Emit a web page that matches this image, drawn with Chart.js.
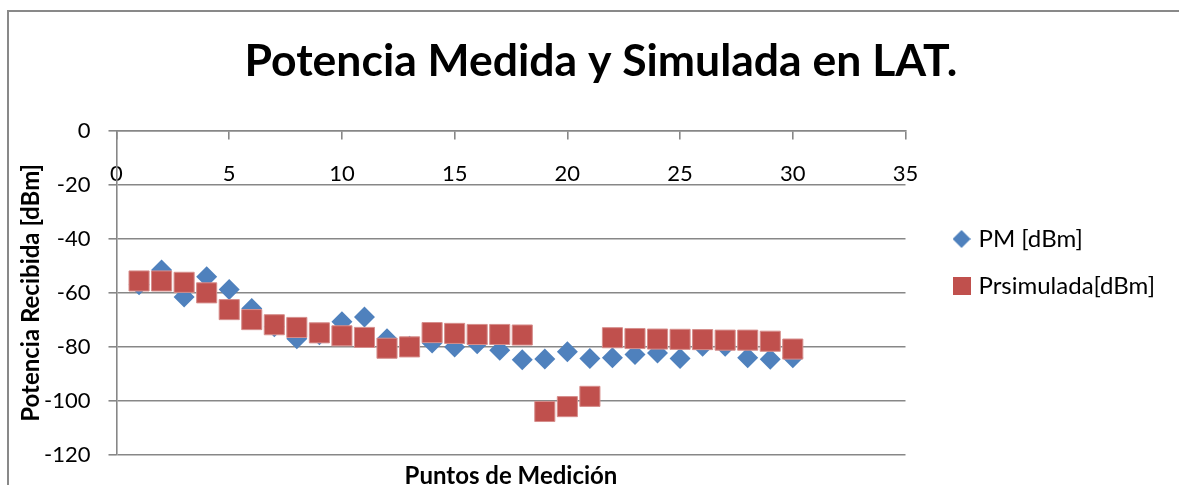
<!DOCTYPE html>
<html lang="es">
<head>
<meta charset="utf-8">
<title>Potencia Medida y Simulada en LAT.</title>
<script src="https://cdn.jsdelivr.net/npm/chart.js@4"></script>
<style>
  html, body { margin: 0; padding: 0; background: #fff; overflow: hidden; }
  #wrap { position: relative; width: 1179px; height: 485px; overflow: hidden; }
  #marco { position: absolute; left: 7px; top: 10px; right: -10px; bottom: -10px;
           border-top: 2px solid #898989; border-left: 2px solid #898989; }
  #grafico { position: absolute; left: 0; top: 0; }
</style>
</head>
<body>
<div id="wrap">
  <div id="marco"></div>
  <canvas id="grafico" width="1179" height="525"></canvas>
</div>
<script>
// puntos de medición y potencias [dBm]
const puntos = [1, 2, 3, 4, 5, 6, 7, 8, 9, 10, 11, 12, 13, 14, 15,
                16, 17, 18, 19, 20, 21, 22, 23, 24, 25, 26, 27, 28, 29, 30];
const pmDbm = [-57, -51.5, -61.5, -54, -58.8, -65.8, -72.5, -77, -75.5, -70.7,
               -68.9, -77, -79.8, -78.6, -80, -78.8, -81.2, -84.8, -84.5, -81.8,
               -84.3, -84, -82.8, -82.3, -84.3, -79.8, -79.8, -84, -84.6, -84];
const prSimulada = [-55.6, -55.6, -56.1, -60, -66.2, -69.9, -71.8, -72.8, -74.8, -75.9,
                    -76.5, -80.5, -80, -74.7, -75, -75.4, -75.4, -75.6, -103.9, -102.1,
                    -98.3, -76.6, -76.9, -77.1, -77.2, -77.3, -77.5, -77.5, -77.9, -80.8];

const AZUL = '#4F81BD';
const ROJO = '#C0504D';
const GRIS = '#878787';

Chart.defaults.font.family = "Lato, 'Noto Sans', sans-serif";
Chart.defaults.color = '#000';

// iconos pequeños para la leyenda
function icono(forma, color){
  const c = document.createElement('canvas');
  c.width = 18; c.height = 18;
  const g = c.getContext('2d');
  g.fillStyle = color;
  g.beginPath();
  if(forma === 'rombo'){
    g.moveTo(9, 0); g.lineTo(18, 9); g.lineTo(9, 18); g.lineTo(0, 9);
    g.closePath();
  } else {
    g.rect(0, 0, 18, 18);
  }
  g.fill();
  return c;
}
const iconos = [icono('rombo', AZUL), icono('cuadro', ROJO)];

const ctx = document.getElementById('grafico');
const chart = new Chart(ctx, {
  type: 'scatter',
  data: {
    datasets: [{
      label: 'PM [dBm]',
      data: puntos.map((x, i) => ({x: x, y: pmDbm[i]})),
      pointStyle: 'rectRot',
      pointRadius: 10.5,
      backgroundColor: AZUL,
      borderColor: AZUL,
      borderWidth: 0,
      order: 1
    }, {
      label: 'Prsimulada[dBm]',
      data: puntos.map((x, i) => ({x: x, y: prSimulada[i]})),
      pointStyle: 'rect',
      pointRadius: 14.2,
      backgroundColor: ROJO,
      borderColor: '#D68E8C',
      borderWidth: 1,
      order: 0
    }]
  },
  options: {
    responsive: false,
    animation: false,
    events: [],
    layout: {
      padding: {left: 37, right: 14, top: 0, bottom: 0}
    },
    scales: {
      x: {
        type: 'linear',
        position: {y: 0},
        min: 0,
        max: 35,
        ticks: {stepSize: 5, padding: 22, font: {size: 22}, color: '#000'},
        grid: {drawOnChartArea: false, drawTicks: true, tickLength: 8, color: GRIS, lineWidth: 1.6},
        border: {color: GRIS, width: 1.6}
      },
      y: {
        min: -120,
        max: 0,
        ticks: {stepSize: 20, padding: 18, font: {size: 22}, color: '#000'},
        grid: {color: GRIS, lineWidth: 1.6, tickLength: 8},
        border: {color: GRIS, width: 1.6},
        title: {
          display: true,
          text: 'Potencia Recibida [dBm]',
          font: {size: 24, weight: 'bold'},
          color: '#000',
          padding: {top: -20.4, bottom: 0}
        },
        afterFit: function(s){ s.width = 79.5; }
      },
      // espacio entre el área de trazado y la leyenda
      hueco: {
        type: 'linear',
        position: 'right',
        grid: {display: false},
        border: {display: false},
        ticks: {display: false},
        afterFit: function(s){ s.width = 28; }
      }
    },
    plugins: {
      title: {
        display: true,
        text: 'Potencia Medida y Simulada en LAT.',
        font: {size: 44.5, weight: 'bold'},
        color: '#000',
        padding: {top: 34.5, bottom: 42.8}
      },
      subtitle: {
        display: true,
        position: 'bottom',
        fullSize: false,
        text: 'Puntos de Medición',
        font: {size: 24, weight: 'bold'},
        color: '#000',
        padding: {top: 7, bottom: 34.2}
      },
      legend: {
        position: 'right',
        maxWidth: 400,
        labels: {
          usePointStyle: true,
          boxWidth: 10,
          boxHeight: 10,
          padding: 23,
          font: {size: 24},
          color: '#000',
          generateLabels: function(chart){
            return chart.data.datasets.map((d, i) => ({
              text: d.label,
              pointStyle: iconos[i],
              fillStyle: d.backgroundColor,
              strokeStyle: d.backgroundColor,
              lineWidth: 0,
              hidden: false,
              datasetIndex: i,
              fontColor: '#000'
            }));
          }
        }
      },
      tooltip: {enabled: false}
    }
  }
});
</script>
</body>
</html>
